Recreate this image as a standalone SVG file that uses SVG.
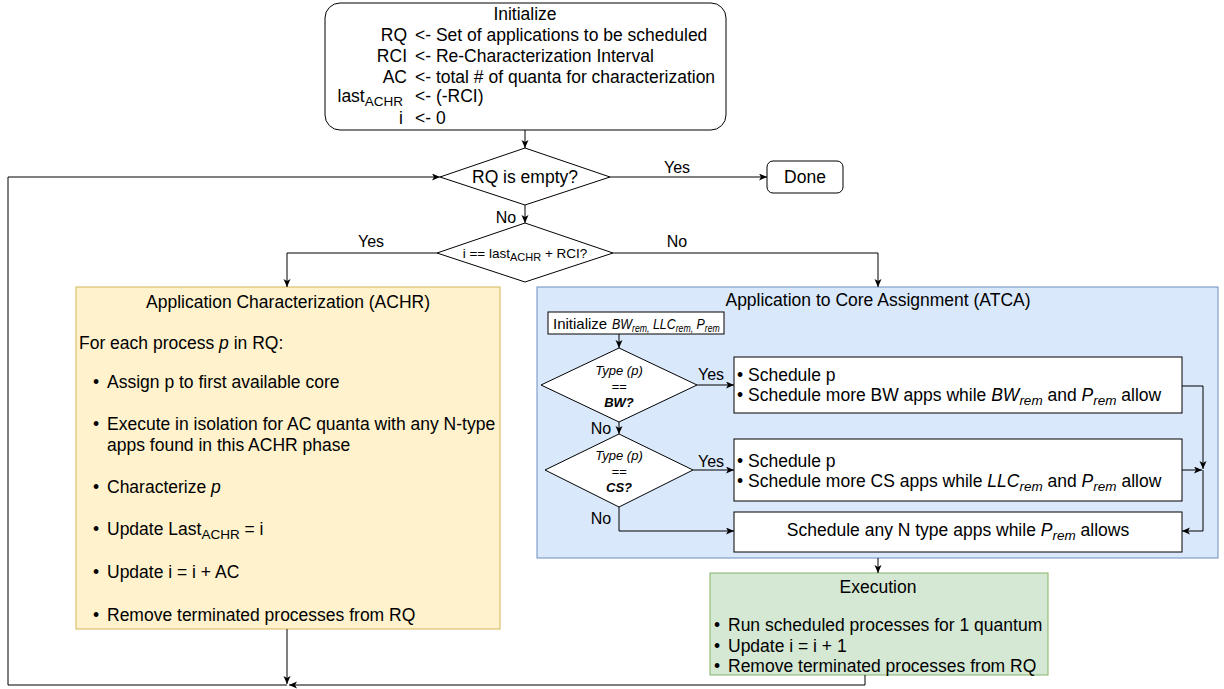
<svg xmlns="http://www.w3.org/2000/svg" width="1224" height="689" viewBox="0 0 1224 689">
<defs>
<marker id="arr" markerWidth="10" markerHeight="8" refX="8" refY="3.5" orient="auto" markerUnits="userSpaceOnUse">
<path d="M0,0 L8,3.5 L0,7 L2,3.5 z" fill="#000"/>
</marker>
<style>
text{font-family:"Liberation Sans",Arial,Helvetica,sans-serif;fill:#000;font-size:17.5px}
.c{text-anchor:middle}
.r{text-anchor:end}
.lbl{font-size:16px}
.sm{font-size:13px}
.dt{font-size:13.5px}
.ini{font-size:15px}
.ini2{font-size:15px}
.it{font-style:italic}
.b{font-weight:bold}
.e{fill:none;stroke:#000;stroke-width:1}
.ea{fill:none;stroke:#000;stroke-width:1;marker-end:url(#arr)}
.box{fill:#fff;stroke:#000;stroke-width:1}
</style>
</defs>
<rect width="1224" height="689" fill="#fff"/>

<g id="init">
<rect x="325" y="3" width="401" height="127" rx="15" ry="15" class="box"/>
<text x="525" y="20" class="c">Initialize</text>
<text x="407" y="41" class="r">RQ</text><text x="415" y="41">&lt;- Set of applications to be scheduled</text>
<text x="407" y="62" class="r">RCI</text><text x="415" y="62">&lt;- Re-Characterization Interval</text>
<text x="407" y="83" class="r">AC</text><text x="415" y="83">&lt;- total # of quanta for characterization</text>
<text x="403" y="102" class="r">last<tspan dy="4" font-size="13.5">ACHR</tspan></text><text x="415" y="102">&lt;- (-RCI)</text>
<text x="403" y="124" class="r">i</text><text x="415" y="124">&lt;- 0</text>
</g>

<g id="rq-empty">
<polygon points="525,148 610,177 525,205 440,177" class="box"/>
<text x="525" y="183" class="c">RQ is empty?</text>
</g>

<g id="done">
<rect x="767" y="161" width="76" height="32" rx="6" ry="6" class="box"/>
<text x="805" y="183" class="c">Done</text>
</g>

<g id="recheck">
<polygon points="525,223 613,253 525,282 437,253" class="box"/>
<text x="525" y="258" class="c dt">i == last<tspan dy="3" font-size="11">ACHR</tspan><tspan dy="-3"> + RCI?</tspan></text>
</g>

<g id="achr">
<rect x="76" y="287" width="424" height="342" fill="#fff2cc" stroke="#d6b656" stroke-width="1"/>
<text x="288" y="308" class="c">Application Characterization (ACHR)</text>
<text x="79" y="349">For each process <tspan class="it">p</tspan> in RQ:</text>
<text x="93" y="388">•</text><text x="107" y="388">Assign p to first available core</text>
<text x="93" y="430">•</text><text x="107" y="430">Execute in isolation for AC quanta with any N-type</text>
<text x="107" y="451">apps found in this ACHR phase</text>
<text x="93" y="493">•</text><text x="107" y="493">Characterize <tspan class="it">p</tspan></text>
<text x="93" y="535">•</text><text x="107" y="535">Update Last<tspan dy="4" font-size="13.5">ACHR</tspan><tspan dy="-4"> = i</tspan></text>
<text x="93" y="578">•</text><text x="107" y="578">Update i = i + AC</text>
<text x="93" y="621">•</text><text x="107" y="621">Remove terminated processes from RQ</text>
</g>

<g id="atca">
<rect x="537" y="287" width="681" height="271" fill="#dae8fc" stroke="#6c8ebf" stroke-width="1"/>
<text x="878" y="306" class="c">Application to Core Assignment (ATCA)</text>
</g>

<g id="atca-init">
<rect x="548" y="312" width="176" height="22" class="box"/>
<text x="553" y="329" class="ini">Initialize</text>
<text transform="translate(612,329) scale(0.83,1)" class="ini2 it">BW<tspan dy="3" font-size="10.5">rem,</tspan><tspan dy="-3"> LLC</tspan><tspan dy="3" font-size="10.5">rem,</tspan><tspan dy="-3"> P</tspan><tspan dy="3" font-size="10.5">rem</tspan></text>
</g>

<g id="type-bw">
<polygon points="619,348 697,385 619,422 541,385" class="box"/>
<text x="619" y="375" class="c sm it">Type (p)</text>
<text x="619" y="391" class="c sm it" fill="#555">==</text>
<text x="619" y="407" class="c sm it b">BW?</text>
</g>

<g id="type-cs">
<polygon points="619,434 693,470 619,507 545,470" class="box"/>
<text x="619" y="460" class="c sm it">Type (p)</text>
<text x="619" y="476" class="c sm it" fill="#555">==</text>
<text x="619" y="492" class="c sm it b">CS?</text>
</g>

<g id="sched-bw">
<rect x="734" y="357" width="448" height="56" class="box"/>
<text x="737" y="381">•</text><text x="748" y="381">Schedule p</text>
<text x="737" y="401">•</text><text x="748" y="401">Schedule more BW apps while <tspan class="it">BW</tspan><tspan class="it" dy="4" font-size="13.5">rem</tspan><tspan dy="-4"> and </tspan><tspan class="it">P</tspan><tspan class="it" dy="4" font-size="13.5">rem</tspan><tspan dy="-4"> allow</tspan></text>
</g>

<g id="sched-cs">
<rect x="734" y="439" width="448" height="62" class="box"/>
<text x="737" y="467">•</text><text x="748" y="467">Schedule p</text>
<text x="737" y="487">•</text><text x="748" y="487">Schedule more CS apps while <tspan class="it">LLC</tspan><tspan class="it" dy="4" font-size="13.5">rem</tspan><tspan dy="-4"> and </tspan><tspan class="it">P</tspan><tspan class="it" dy="4" font-size="13.5">rem</tspan><tspan dy="-4"> allow</tspan></text>
</g>

<g id="sched-n">
<rect x="734" y="512" width="448" height="40" class="box"/>
<text x="958" y="536" class="c">Schedule any N type apps while <tspan class="it">P</tspan><tspan class="it" dy="4" font-size="13.5">rem</tspan><tspan dy="-4"> allows</tspan></text>
</g>

<g id="execution">
<rect x="710" y="573" width="338" height="102" fill="#d5e8d4" stroke="#82b366" stroke-width="1"/>
<text x="878" y="593" class="c">Execution</text>
<text x="714" y="631">•</text><text x="728" y="631">Run scheduled processes for 1 quantum</text>
<text x="714" y="652">•</text><text x="728" y="652">Update i = i + 1</text>
<text x="714" y="672">•</text><text x="728" y="672">Remove terminated processes from RQ</text>
</g>

<g id="connectors">
<path d="M525,130 V148" class="ea"/>
<path d="M610,177 H767" class="ea"/>
<path d="M525,205 V223" class="ea"/>
<path d="M437,253 H287 V287" class="ea"/>
<path d="M613,253 H878 V287" class="ea"/>
<path d="M619,334 V348" class="ea"/>
<path d="M697,385 H734" class="ea"/>
<path d="M619,422 V434" class="ea"/>
<path d="M693,470 H734" class="ea"/>
<path d="M619,507 V531 H734" class="ea"/>
<path d="M1182,386 H1203 V469" class="ea"/>
<path d="M1182,470 H1202" class="ea"/>
<path d="M1203,470 V531 H1182" class="ea"/>
<path d="M878,558 V573" class="ea"/>
<path d="M287,629 V684" class="ea"/>
<path d="M865,675 V685 H289" class="ea"/>
<path d="M287,685 H8 V177 H440" class="ea"/>
<text x="677" y="173" class="c lbl">Yes</text>
<text x="506" y="223" class="c lbl">No</text>
<text x="371" y="247" class="c lbl">Yes</text>
<text x="677" y="247" class="c lbl">No</text>
<text x="711" y="380" class="c lbl">Yes</text>
<text x="601" y="434" class="c lbl">No</text>
<text x="711" y="467" class="c lbl">Yes</text>
<text x="601" y="524" class="c lbl">No</text>
</g>
</svg>
